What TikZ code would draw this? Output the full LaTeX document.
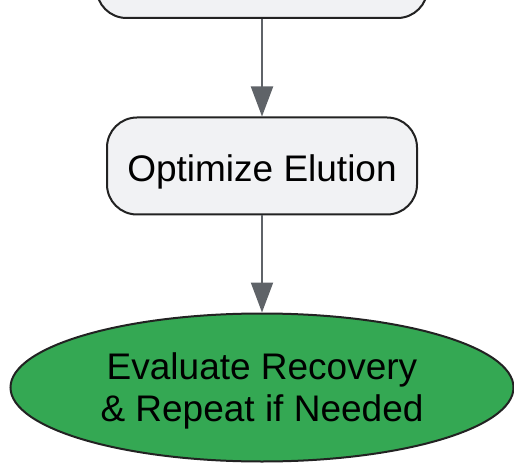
\documentclass[tikz,border=0pt]{standalone}
\usepackage{fontspec}
\setmainfont{Liberation Sans}
\usetikzlibrary{shapes.geometric,arrows.meta}
\definecolor{boxfill}{HTML}{F1F2F4}
\definecolor{boxline}{HTML}{222222}
\definecolor{arrowgray}{HTML}{5F6368}
\definecolor{endgreen}{HTML}{34A853}
\begin{document}
\begin{tikzpicture}[x=1pt,y=-1pt,
  procbox/.style={draw=boxline, line width=2pt, fill=boxfill, rounded corners=30pt, minimum width=310pt, minimum height=97pt, inner sep=0pt, font=\fontsize{37}{42}\selectfont, text=black},
  endnode/.style={ellipse, draw=boxline, line width=2pt, fill=endgreen, minimum width=503pt, minimum height=148pt, inner sep=0pt, align=center, font=\fontsize{37}{42}\selectfont, text=black},
  flow/.style={draw=arrowgray, line width=2pt, -{Triangle[length=30pt,width=22pt]}}
]
\useasboundingbox (0,0) rectangle (514,465);
\clip (0,0) rectangle (514,465);
\node[procbox, minimum width=331pt, anchor=south] (top) at (262,19) {};
\node[procbox, text height=40pt, text depth=8pt] (mid) at (262,166) {Optimize Elution};
\node[endnode] (end) at (262,387.5) {\rule{0pt}{33pt}Evaluate Recovery\\\& Repeat if Needed};
\draw[flow] (top.south) -- (mid.north);
\draw[flow] (mid.south) -- (end.north);
\end{tikzpicture}
\end{document}
